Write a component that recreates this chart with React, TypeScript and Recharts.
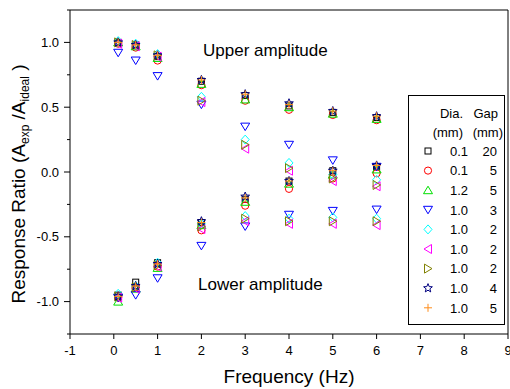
import React from 'react';
import { ScatterChart, Scatter, XAxis, YAxis, ReferenceLine } from 'recharts';

const frequencies = [0.1, 0.5, 1, 2, 3, 4, 5, 6];

// upper / lower amplitude ratio for each sample
const sqUpper = [1.0, 0.98, 0.89, 0.7, 0.59, 0.51, 0.46, 0.42];
const sqLower = [-0.95, -0.85, -0.7, -0.39, -0.21, -0.07, 0.01, 0.04];
const circUpper = [0.99, 0.96, 0.86, 0.67, 0.55, 0.48, 0.44, 0.4];
const circLower = [-0.97, -0.89, -0.73, -0.45, -0.26, -0.13, -0.05, -0.01];
const upTriUpper = [1.0, 0.97, 0.88, 0.68, 0.56, 0.5, 0.45, 0.41];
const upTriLower = [-1.0, -0.9, -0.74, -0.41, -0.23, -0.09, -0.02, 0.02];
const downTriUpper = [0.92, 0.86, 0.74, 0.52, 0.35, 0.21, 0.09, 0.04];
const downTriLower = [-0.97, -0.95, -0.82, -0.57, -0.42, -0.33, -0.3, -0.29];
const diamUpper = [1.01, 0.99, 0.91, 0.58, 0.25, 0.07, -0.02, -0.06];
const diamLower = [-0.94, -0.88, -0.7, -0.4, -0.34, -0.36, -0.35, -0.36];
const leftTriUpper = [0.99, 0.97, 0.89, 0.54, 0.18, 0.01, -0.07, -0.11];
const leftTriLower = [-0.97, -0.9, -0.73, -0.44, -0.38, -0.4, -0.4, -0.41];
const rightTriUpper = [1.0, 0.98, 0.9, 0.55, 0.21, 0.03, -0.05, -0.1];
const rightTriLower = [-0.96, -0.89, -0.72, -0.42, -0.36, -0.38, -0.38, -0.38];
const starUpper = [1.0, 0.98, 0.9, 0.71, 0.6, 0.53, 0.47, 0.43];
const starLower = [-0.96, -0.88, -0.71, -0.38, -0.19, -0.07, 0.01, 0.05];
const plusUpper = [1.0, 0.98, 0.9, 0.71, 0.6, 0.52, 0.47, 0.43];
const plusLower = [-0.96, -0.88, -0.71, -0.39, -0.2, -0.07, 0.01, 0.05];

const diaLabels = ['0.1', '0.1', '1.2', '1.0', '1.0', '1.0', '1.0', '1.0', '1.0'];
const gapLabels = ['20', '5', '5', '3', '2', '2', '2', '4', '5'];

const xTicks = [-1, 0, 1, 2, 3, 4, 5, 6, 7, 8, 9];
const yTicks = [-1.25, -1, -0.75, -0.5, -0.25, 0, 0.25, 0.5, 0.75, 1, 1.25];

const FONT = '"Liberation Sans", Arial, sans-serif';

const series = [
  { upper: sqUpper, lower: sqLower, shape: 'square', color: '#000000' },
  { upper: circUpper, lower: circLower, shape: 'circle', color: '#ff0000' },
  { upper: upTriUpper, lower: upTriLower, shape: 'up', color: '#00e000' },
  { upper: downTriUpper, lower: downTriLower, shape: 'down', color: '#0000ff' },
  { upper: diamUpper, lower: diamLower, shape: 'diamond', color: '#00ffff' },
  { upper: leftTriUpper, lower: leftTriLower, shape: 'left', color: '#ff00ff' },
  { upper: rightTriUpper, lower: rightTriLower, shape: 'right', color: '#808000' },
  { upper: starUpper, lower: starLower, shape: 'star', color: '#000080' },
  { upper: plusUpper, lower: plusLower, shape: 'plus', color: '#ff8c1a' },
];

const toPoints = (vals: number[]) => frequencies.map((f, i) => ({ freq: f, ratio: vals[i] }));

const Marker = ({ kind, cx, cy, color }: any) => {
  const st = { fill: 'none', stroke: color, strokeWidth: 1 };
  switch (kind) {
    case 'square':
      return <rect x={cx - 3} y={cy - 3} width={6} height={6} {...st} />;
    case 'circle':
      return <circle cx={cx} cy={cy} r={3.6} {...st} />;
    case 'up':
      return <polygon points={`${cx},${cy - 4} ${cx + 4.5},${cy + 3.5} ${cx - 4.5},${cy + 3.5}`} {...st} />;
    case 'down':
      return <polygon points={`${cx},${cy + 4} ${cx + 4.5},${cy - 3.5} ${cx - 4.5},${cy - 3.5}`} {...st} />;
    case 'left':
      return <polygon points={`${cx - 4},${cy} ${cx + 3.5},${cy - 4.5} ${cx + 3.5},${cy + 4.5}`} {...st} />;
    case 'right':
      return <polygon points={`${cx + 4},${cy} ${cx - 3.5},${cy - 4.5} ${cx - 3.5},${cy + 4.5}`} {...st} />;
    case 'diamond':
      return <polygon points={`${cx},${cy - 4.5} ${cx + 4},${cy} ${cx},${cy + 4.5} ${cx - 4},${cy}`} {...st} />;
    case 'star': {
      const pts: string[] = [];
      for (let k = 0; k < 10; k++) {
        const r = k % 2 === 0 ? 4.6 : 2;
        const a = -Math.PI / 2 + (k * Math.PI) / 5;
        pts.push(`${cx + r * Math.cos(a)},${cy + r * Math.sin(a)}`);
      }
      return <polygon points={pts.join(' ')} {...st} />;
    }
    default:
      return <path d={`M${cx - 4},${cy}H${cx + 4}M${cx},${cy - 4}V${cy + 4}`} {...st} />;
  }
};

const YTick = (props: any) => {
  const { x, y, payload } = props;
  const v = payload.value;
  const major = Math.abs(v * 2 - Math.round(v * 2)) < 1e-6;
  const axisX = x + 11;
  return (
    <g>
      <line x1={axisX - (major ? 6 : 3)} x2={axisX} y1={y} y2={y} stroke="#000" />
      {major && (
        <text x={x} y={y} dy="0.36em" textAnchor="end" fill="#000" fontSize={13} fontFamily={FONT}>
          {v.toFixed(1)}
        </text>
      )}
    </g>
  );
};

const YLabel = (props: any) => {
  const vb = props.viewBox || { x: 0, y: 10, width: 70, height: 324 };
  const cx = vb.x + 25;
  const cy = vb.y + vb.height / 2 + 12;
  return (
    <text
      x={cx}
      y={cy}
      textAnchor="middle"
      transform={`rotate(-90, ${cx}, ${cy})`}
      fontSize={19}
      fontFamily={FONT}
      fill="#000"
    >
      Response Ratio (A
      <tspan dy={4} fontSize={12}>exp</tspan>
      <tspan dy={-4}> /A</tspan>
      <tspan dy={4} fontSize={12}>ideal</tspan>
      <tspan dy={-4}> )</tspan>
    </text>
  );
};

const XLabel = (props: any) => {
  const vb = props.viewBox || { x: 70, y: 334, width: 438, height: 55 };
  return (
    <text x={vb.x + vb.width / 2} y={vb.y + 49} textAnchor="middle" fontSize={19} fontFamily={FONT} fill="#000">
      Frequency (Hz)
    </text>
  );
};

const LegendBox = () => {
  const rowY = (i: number) => 151 + i * 19.6;
  return (
    <g fontFamily={FONT} fontSize={13} fill="#000">
      <rect x={408.5} y={95.5} width={96} height={229} fill="#fff" stroke="#000" />
      <text x={463} y={117.5} textAnchor="end">Dia.</text>
      <text x={498} y={117.5} textAnchor="end">Gap</text>
      <text x={463} y={136.5} textAnchor="end">(mm)</text>
      <text x={503} y={136.5} textAnchor="end">(mm)</text>
      {series.map((s, i) => (
        <g key={i}>
          <Marker kind={s.shape} color={s.color} cx={428} cy={rowY(i)} />
          <text x={468} y={rowY(i) + 4.7} textAnchor="end">{diaLabels[i]}</text>
          <text x={497} y={rowY(i) + 4.7} textAnchor="end">{gapLabels[i]}</text>
        </g>
      ))}
    </g>
  );
};

export default function App() {
  return (
    <div style={{ position: 'absolute', left: 0, top: 0, width: 510, height: 389, background: '#fff' }}>
      <ScatterChart width={510} height={389} margin={{ top: 10, right: 2, bottom: 0, left: 0 }}>
        <XAxis
          dataKey="freq"
          type="number"
          domain={[-1, 9]}
          ticks={xTicks}
          interval={0}
          allowDataOverflow
          height={55}
          tickSize={5}
          tickMargin={7}
          axisLine={{ stroke: '#000' }}
          tickLine={{ stroke: '#000' }}
          tick={{ fill: '#000', fontSize: 13, fontFamily: FONT }}
          label={(p: any) => <XLabel {...p} />}
        />
        <YAxis
          dataKey="ratio"
          type="number"
          domain={[-1.25, 1.25]}
          ticks={yTicks}
          interval={0}
          allowDataOverflow
          width={70}
          tickSize={6}
          tickMargin={5}
          axisLine={{ stroke: '#000' }}
          tickLine={false}
          tick={(p: any) => <YTick {...p} />}
          label={(p: any) => <YLabel {...p} />}
        />
        <ReferenceLine y={1.25} stroke="#000" />
        <ReferenceLine x={9} stroke="#000" />
        {series.map((s, i) => (
          <Scatter
            key={i}
            data={[...toPoints(s.upper), ...toPoints(s.lower)]}
            isAnimationActive={false}
            shape={(p: any) => <Marker kind={s.shape} color={s.color} cx={p.cx} cy={p.cy} />}
          />
        ))}
      </ScatterChart>
      <svg width={510} height={389} style={{ position: 'absolute', left: 0, top: 0, pointerEvents: 'none' }}>
        <text x={203} y={56} fontSize={17} fontFamily={FONT} fill="#000">Upper amplitude</text>
        <text x={198} y={290} fontSize={17} fontFamily={FONT} fill="#000">Lower amplitude</text>
        <LegendBox />
      </svg>
    </div>
  );
}
